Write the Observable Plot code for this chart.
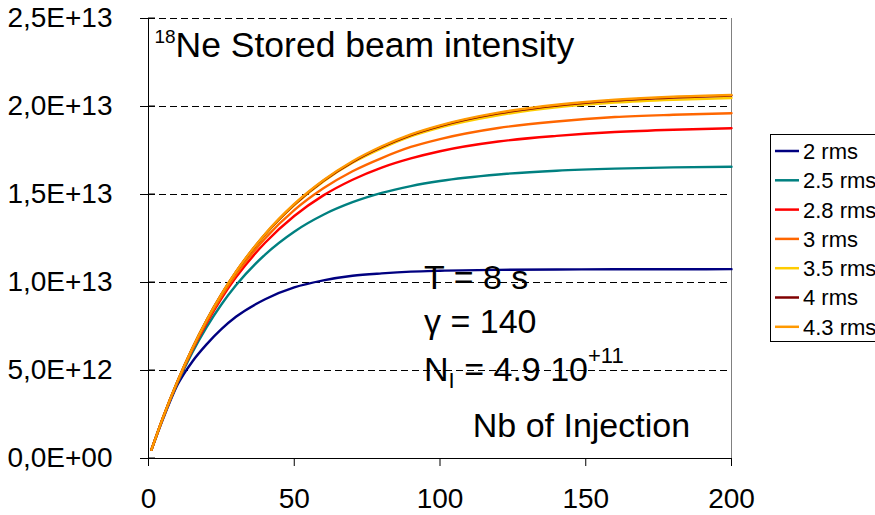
<!DOCTYPE html>
<html><head><meta charset="utf-8">
<script src="https://cdn.jsdelivr.net/npm/d3@7"></script>
<script src="https://cdn.jsdelivr.net/npm/@observablehq/plot@0.6"></script>
<style>
body{margin:0;background:#fff;}
#chart{width:875px;height:515px;overflow:hidden;}
</style></head><body><div id="chart"></div>
<script>
// Number of injections (x)
const injections = [1, 5, 10, 15, 20, 25, 30, 40, 50, 60, 70, 80, 90, 100, 120, 140, 160, 180, 200];
// Stored intensity, in units of 1e12
const rms2   = [0.49, 2.25, 4.20, 5.50, 6.50, 7.35, 8.05, 9.05, 9.72, 10.12, 10.38, 10.52, 10.62, 10.67, 10.72, 10.74, 10.75, 10.75, 10.76];
const rms2_5 = [0.49, 2.31, 4.30, 6.01, 7.48, 8.75, 9.84, 11.59, 12.89, 13.85, 14.56, 15.09, 15.48, 15.77, 16.14, 16.35, 16.47, 16.54, 16.58];
const rms2_8 = [0.49, 2.33, 4.36, 6.15, 7.71, 9.09, 10.29, 12.26, 13.78, 14.95, 15.84, 16.53, 17.05, 17.46, 18.01, 18.33, 18.55, 18.68, 18.76];
const rms3   = [0.49, 2.33, 4.39, 6.20, 7.80, 9.21, 10.45, 12.51, 14.11, 15.35, 16.32, 17.07, 17.70, 18.15, 18.78, 19.15, 19.40, 19.53, 19.62];
const rms3_5 = [0.49, 2.34, 4.41, 6.24, 7.87, 9.31, 10.59, 12.72, 14.40, 15.74, 16.80, 17.62, 18.30, 18.80, 19.50, 19.95, 20.22, 20.38, 20.48];
const rms4   = [0.49, 2.34, 4.41, 6.25, 7.88, 9.32, 10.60, 12.74, 14.43, 15.78, 16.85, 17.70, 18.38, 18.89, 19.61, 20.06, 20.34, 20.51, 20.62];
const rms4_3 = [0.49, 2.34, 4.41, 6.25, 7.88, 9.33, 10.61, 12.76, 14.46, 15.81, 16.89, 17.74, 18.42, 18.93, 19.65, 20.10, 20.38, 20.55, 20.65];

const seriesNames = ["2 rms", "2.5 rms", "2.8 rms", "3 rms", "3.5 rms", "4 rms", "4.3 rms"];
const seriesValues = [rms2, rms2_5, rms2_8, rms3, rms3_5, rms4, rms4_3];
const seriesColors = ["#000080", "#008080", "#FF0000", "#FF6600", "#FFCC00", "#800000", "#FF9900"];

const yTicks = [0, 5e12, 1e13, 1.5e13, 2e13, 2.5e13];
const yTickLabels = ["0,0E+00", "5,0E+12", "1,0E+13", "1,5E+13", "2,0E+13", "2,5E+13"];
const xTicks = [0, 50, 100, 150, 200];
const xTickLabels = ["0", "50", "100", "150", "200"];

const data = [];
seriesNames.forEach((s, i) => {
  injections.forEach((n, j) => data.push({series: s, n, v: seriesValues[i][j] * 1e12}));
});

const FONT = "'Liberation Sans', Arial, sans-serif";

const plot = Plot.plot({
  width: 875, height: 515,
  marginLeft: 148, marginRight: 144, marginTop: 18, marginBottom: 57,
  style: {fontFamily: FONT, fontSize: "28px", color: "#000", background: "#fff", overflow: "visible"},
  x: {domain: [0, 200]},
  y: {domain: [0, 2.5e13]},
  color: {domain: seriesNames, range: seriesColors},
  marks: [
    Plot.gridY(yTicks.slice(1), {stroke: "#000", strokeOpacity: 1, strokeWidth: 1, strokeDasharray: "7,4"}),
    Plot.ruleX([200], {stroke: "#808080", strokeWidth: 1}),
    Plot.line(data, {x: "n", y: "v", z: "series", stroke: "series", strokeWidth: 2.4, curve: "monotone-x"}),
    Plot.ruleY([0], {stroke: "#000", strokeWidth: 1}),
    Plot.ruleX([0], {stroke: "#000", strokeWidth: 1}),
    Plot.axisY({ticks: yTicks, tickFormat: d => yTickLabels[yTicks.indexOf(d)], tickSize: 8, tickPadding: 28, fontSize: 28, label: null, stroke: "#000"}),
    Plot.axisX({ticks: xTicks, tickFormat: d => xTickLabels[xTicks.indexOf(d)], tickSize: 8, tickPadding: 22, fontSize: 28, label: null, stroke: "#000"})
  ]
});

document.getElementById("chart").appendChild(plot);

const svg = d3.select(plot);
const xs = plot.scale("x"), ys = plot.scale("y");

// inner half of the crossing y ticks
svg.append("g").selectAll("line").data(yTicks).join("line")
  .attr("x1", xs.apply(0)).attr("x2", xs.apply(0) + 7)
  .attr("y1", d => ys.apply(d)).attr("y2", d => ys.apply(d))
  .attr("stroke", "#000");

// Text annotations (rich text with sub/superscripts)
function richText(px, py, parts) {
  const t = svg.append("text").attr("x", px).attr("y", py)
    .attr("text-anchor", "start")
    .attr("font-family", FONT).attr("fill", "#000");
  let shift = 0;
  parts.forEach(p => {
    const target = p.shift || 0;
    t.append("tspan").attr("dy", target - shift).attr("font-size", p.size).text(p.t);
    shift = target;
  });
  return t;
}
const big = 34, small = 22;
richText(xs.apply(2.2), ys.apply(2.278e13), [
  {t: "18", size: 19, shift: -14},
  {t: "Ne Stored beam intensity", size: 35.5}
]);
const annX = xs.apply(94.7);
richText(annX, ys.apply(9.6e12), [{t: "T = 8 s", size: big}]);
richText(annX, ys.apply(7.1e12), [{t: "\u03B3 = 140", size: big}]);
richText(annX, ys.apply(4.38e12), [
  {t: "N", size: big},
  {t: "I", size: small, shift: 7},
  {t: " = 4.9 10", size: big},
  {t: "+11", size: small, shift: -18}
]);
richText(xs.apply(111.4), ys.apply(1.19e12), [{t: "Nb of Injection", size: big}]);

// Legend (boxed, right side)
const lg = svg.append("g");
lg.append("rect").attr("x", 770.5).attr("y", 134.5).attr("width", 120).attr("height", 207)
  .attr("fill", "#fff").attr("stroke", "#000").attr("stroke-width", 1);
seriesNames.forEach((s, i) => {
  const yy = 151 + i * 29.3;
  lg.append("line").attr("x1", 775).attr("x2", 799).attr("y1", yy).attr("y2", yy)
    .attr("stroke", seriesColors[i]).attr("stroke-width", 2.5);
  lg.append("text").attr("x", 803).attr("y", yy).attr("dy", "0.36em")
    .attr("text-anchor", "start")
    .attr("font-family", FONT).attr("font-size", 22).attr("fill", "#000").text(s);
});
</script>
</body></html>
